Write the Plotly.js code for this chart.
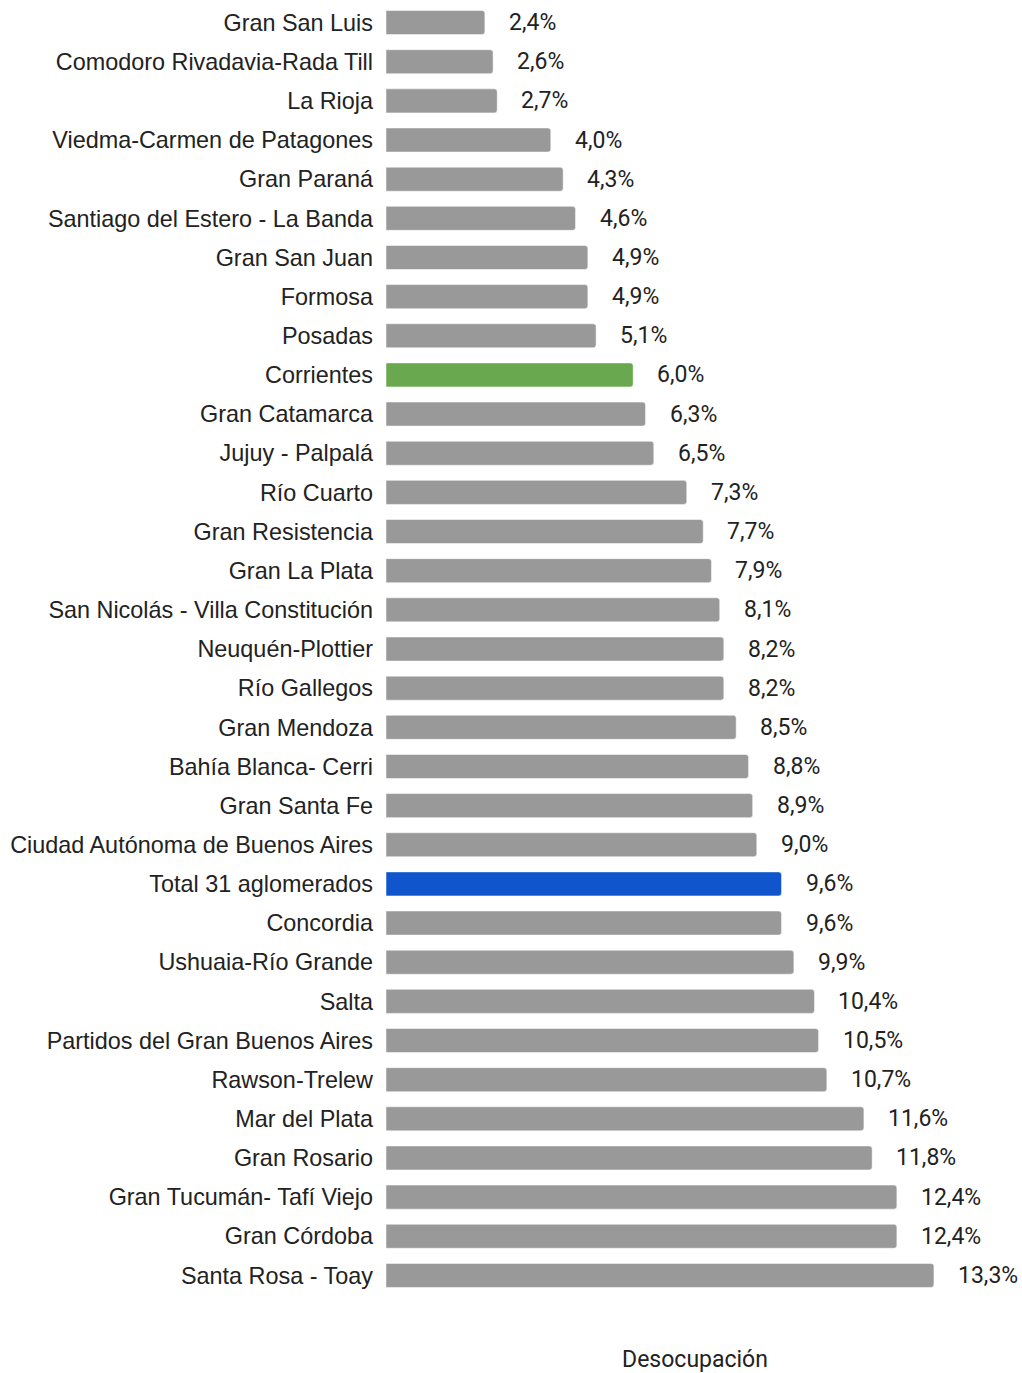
<!DOCTYPE html>
<html><head><meta charset="utf-8">
<script src="https://cdn.plot.ly/plotly-3.0.1.min.js"></script>
<style>body{margin:0;background:#fff}#chart{width:1022px;height:1373px}</style>
</head><body><div id="chart"></div>
<script>
const categories = ["Gran San Luis","Comodoro Rivadavia-Rada Till","La Rioja","Viedma-Carmen de Patagones","Gran Paraná","Santiago del Estero - La Banda","Gran San Juan","Formosa","Posadas","Corrientes","Gran Catamarca","Jujuy - Palpalá","Río Cuarto","Gran Resistencia","Gran La Plata","San Nicolás - Villa Constitución","Neuquén-Plottier","Río Gallegos","Gran Mendoza","Bahía Blanca- Cerri","Gran Santa Fe","Ciudad Autónoma de Buenos Aires","Total 31 aglomerados","Concordia","Ushuaia-Río Grande","Salta","Partidos del Gran Buenos Aires","Rawson-Trelew","Mar del Plata","Gran Rosario","Gran Tucumán- Tafí Viejo","Gran Córdoba","Santa Rosa - Toay"];
const values = [2.4,2.6,2.7,4.0,4.3,4.6,4.9,4.9,5.1,6.0,6.3,6.5,7.3,7.7,7.9,8.1,8.2,8.2,8.5,8.8,8.9,9.0,9.6,9.6,9.9,10.4,10.5,10.7,11.6,11.8,12.4,12.4,13.3];
const highlight = {"Corrientes":"#6aa84f","Total 31 aglomerados":"#1155cc"};
const baseColor = "#999999";
const axisTitle = "Desocupación";

const colors = categories.map(c => highlight[c] || baseColor);
const labels = values.map(v => v.toFixed(1).replace('.', ',') + '%');

const trace = {
  type: 'bar', orientation: 'h',
  y: categories, x: values,
  marker: {color: colors, cornerradius: 3, line: {width: 1, color: 'rgba(255,255,255,0.5)'}},
  hoverinfo: 'none'
};
const annotations = values.map((v, i) => ({
  x: v, y: categories[i], xref: 'x', yref: 'y',
  text: labels[i], showarrow: false, xanchor: 'left', xshift: 22,
  font: {family: 'Roboto, sans-serif', size: 23, color: '#222'}
}));

const layout = {
  width: 1022, height: 1373,
  margin: {l: 386, r: 18, t: 3, b: 78},
  paper_bgcolor: '#fff', plot_bgcolor: '#fff',
  showlegend: false,
  bargap: 0.386,
  xaxis: {range: [0, 15], showticklabels: false, showgrid: false, zeroline: false, showline: false, ticks: '',
          title: {text: axisTitle, standoff: 61, font: {family: 'Roboto, sans-serif', size: 23, color: '#222'}}},
  yaxis: {autorange: 'reversed', showgrid: false, zeroline: false, showline: false, ticks: '', ticklabelstandoff: 12,
          tickfont: {family: '"Liberation Sans", Arial, sans-serif', size: 23.4, color: '#222'}},
  annotations: annotations
};
Plotly.newPlot('chart', [trace], layout, {displayModeBar: false, staticPlot: true});
</script></body></html>
